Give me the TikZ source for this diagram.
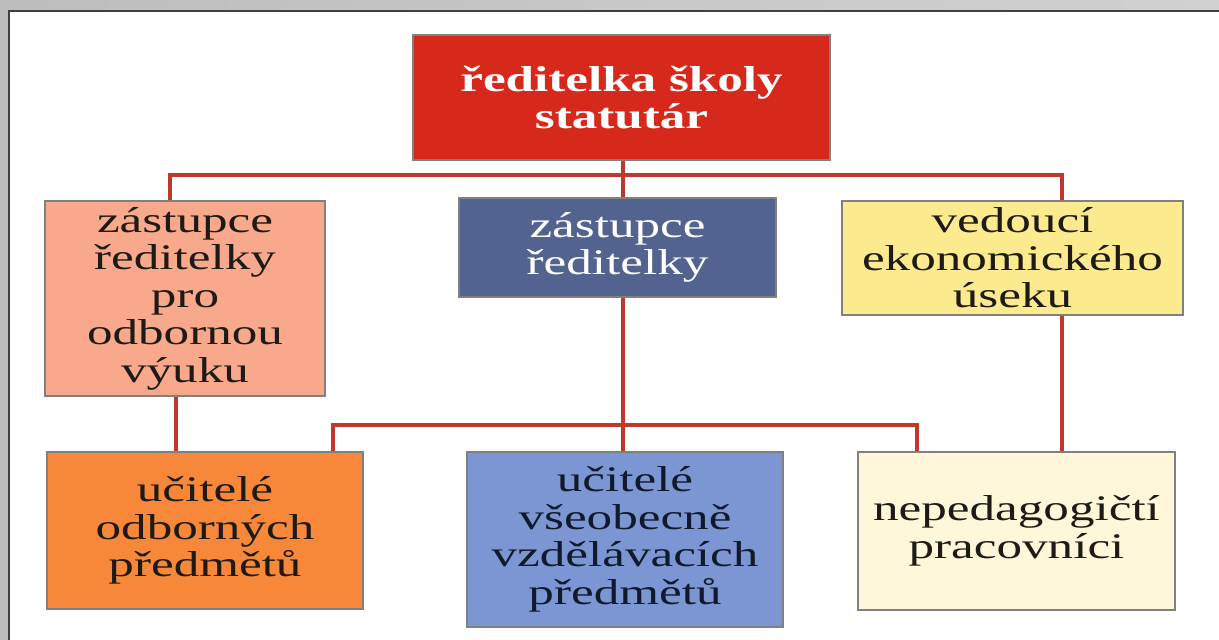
\documentclass[tikz,border=0pt]{standalone}
\usepackage{fontspec}
\setmainfont{Liberation Serif}[FakeStretch=1.42]
\begin{document}
\begin{tikzpicture}[x=1pt,y=-1pt,
  box/.style={draw=black!50,line width=1.2pt,inner sep=0pt,align=center,
    font=\fontsize{36}{37.5}\selectfont},
  conn/.style={draw=linered,line width=4pt}]
\definecolor{linered}{HTML}{C0372B}
\definecolor{topred}{HTML}{D7281C}
\definecolor{salmon}{HTML}{F9A98B}
\definecolor{darkblue}{HTML}{52638F}
\definecolor{lyellow}{HTML}{FBEA8E}
\definecolor{orangebox}{HTML}{F7883A}
\definecolor{midblue}{HTML}{7B96D2}
\definecolor{cream}{HTML}{FEF7DA}
\definecolor{navytext}{HTML}{111A2C}
\definecolor{darktext}{HTML}{1E1A16}
\useasboundingbox (0,0) rectangle (1219,640);
% frame
\shade[left color=black!26,right color=black!18] (0,0) rectangle (1219,640);
\fill[white] (9,11) rectangle (1219,640);
\draw[black!75,line width=1.5pt] (9,640) -- (9,11) -- (1219,11);
% boxes
\node[box,fill=topred,text=white,minimum width=417pt,minimum height=125pt,
  font=\fontsize{36}{37.5}\selectfont\bfseries] (top) at (621.5,97.5)
  {ředitelka školy\\statutár};
\node[box,fill=salmon,text=darktext,minimum width=280pt,minimum height=195pt] (A) at (185,298.5)
  {zástupce\\ředitelky\\pro\\odbornou\\výuku};
\node[box,fill=darkblue,text=white,minimum width=317pt,minimum height=99pt] (B) at (617.5,247.5)
  {zástupce\\ředitelky};
\node[box,fill=lyellow,text=darktext,minimum width=341pt,minimum height=114pt] (C) at (1012.5,258)
  {vedoucí\\ekonomického\\úseku};
\node[box,fill=orangebox,text=darktext,minimum width=316pt,minimum height=157pt] (D) at (205,530.5)
  {učitelé\\odborných\\předmětů};
\node[box,fill=midblue,text=navytext,minimum width=316pt,minimum height=175pt] (E) at (625,539.5)
  {učitelé\\všeobecně\\vzdělávacích\\předmětů};
\node[box,fill=cream,text=darktext,minimum width=317pt,minimum height=158pt] (F) at (1016.5,531)
  {nepedagogičtí\\pracovníci};
% junctions
\coordinate (jL) at (170,175);
\coordinate (jM) at (623,175);
\coordinate (jR) at (1062,175);
\coordinate (kL) at (333,425);
\coordinate (kR) at (917,425);
\coordinate (xL) at (176,0);
% connectors
\draw[conn] (jM |- top.south) -- (jM |- B.north);
\draw[conn] (jL |- A.north) -- (jL) -- (jR) -- (jR |- C.north);
\draw[conn] (xL |- A.south) -- (xL |- D.north);
\draw[conn] (jM |- B.south) -- (jM |- E.north);
\draw[conn] (kL |- D.north) -- (kL) -- (kR) -- (kR |- F.north);
\draw[conn] (jR |- C.south) -- (jR |- F.north);
\end{tikzpicture}
\end{document}
